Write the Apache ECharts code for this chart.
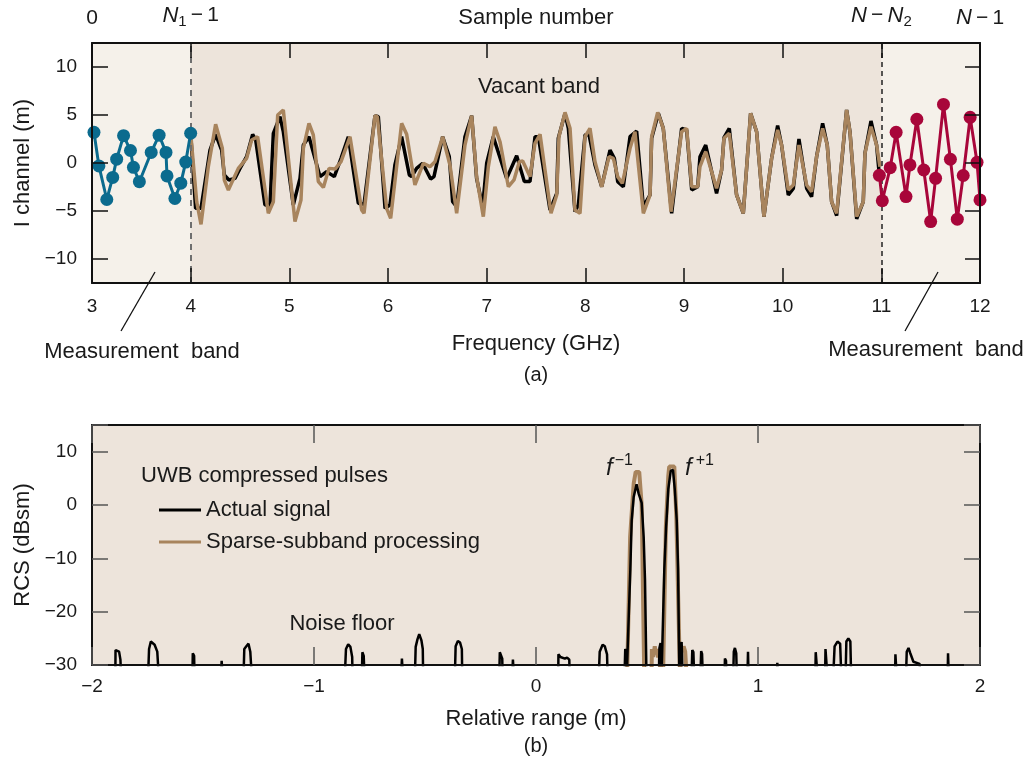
<!DOCTYPE html>
<html>
<head>
<meta charset="utf-8">
<script src="https://cdn.jsdelivr.net/npm/echarts@6/dist/echarts.min.js"></script>
<style>
  html, body { margin: 0; padding: 0; background: #fff; }
  #main { width: 1031px; height: 767px; }
</style>
</head>
<body>
<div id="main"></div>
<script>
// (a) I channel vs frequency
const blueFreq = [3.02, 3.07, 3.15, 3.21, 3.25, 3.32, 3.39, 3.42, 3.48, 3.60, 3.68, 3.75, 3.76, 3.84, 3.90, 3.95, 4.00];
const blueVal = [3.2, -0.3, -3.8, -1.5, 0.4, 2.85, 1.3, -0.45, -1.95, 1.1, 2.9, 1.1, -1.35, -3.7, -2.1, 0.1, 3.1];

const redFreq = [10.98, 11.01, 11.09, 11.15, 11.25, 11.29, 11.36, 11.43, 11.50, 11.55, 11.63, 11.70, 11.77, 11.83, 11.90, 11.97, 12.0];
const redVal = [-1.28, -3.93, -0.49, 3.2, -3.5, -0.2, 4.56, -0.73, -6.1, -1.6, 6.1, 0.39, -5.85, -1.3, 4.76, 0.07, -3.85];

const actualFreq = [4.0, 4.05, 4.105, 4.196, 4.253, 4.314, 4.341, 4.388, 4.449, 4.5, 4.567, 4.628, 4.659, 4.753, 4.804, 4.838, 4.905, 4.939, 5.04, 5.108, 5.142, 5.199, 5.311, 5.378, 5.456, 5.524, 5.598, 5.699, 5.757,
  5.868, 5.902, 5.97, 6.02, 6.07, 6.138, 6.216, 6.24, 6.29, 6.351, 6.432, 6.466, 6.554, 6.621, 6.655, 6.696, 6.78, 6.848, 6.898, 6.959, 7.0, 7.067, 7.203, 7.304, 7.382, 7.439, 7.49, 7.524,
  7.642, 7.71, 7.726, 7.794, 7.828, 7.895, 7.929, 7.997, 8.037, 8.098, 8.166, 8.25, 8.294, 8.328, 8.385, 8.453, 8.52, 8.588, 8.656, 8.672, 8.74, 8.79, 8.875, 8.976, 9.027, 9.078, 9.139, 9.162, 9.22,
  9.33, 9.381, 9.405, 9.459, 9.533, 9.601, 9.675, 9.736, 9.81, 9.888, 9.949, 9.989, 10.057, 10.108, 10.165, 10.243, 10.293, 10.344, 10.405, 10.452, 10.496, 10.547, 10.648, 10.682, 10.75, 10.817, 10.834, 10.895, 10.952, 10.98];
const actualVal = [3.1, -4.72, -4.72, 1.35, 2.98, 1.35, -1.25, -1.77, -1.6, -0.56, 0.66, 2.98, 2.4, -4.38, -4.38, 3.09, 4.83, 3.26, -4.38, -1.6, 1.87, 2.74, -1.42, -0.9, -1.42, 0.49, 2.74, -4.2, -4.3,
  4.93, 4.83, -4.72, -4.38, -0.21, 2.74, -1.25, -1.42, -0.56, -0.03, -1.67, -1.42, 2.74, 0.66, -4.03, -4.55, 2.74, 4.93, -1.6, -4.55, -0.03, 2.74, -1.6, 0.76, -1.94, -1.94, 2.74, 2.74,
  -4.9, -3.16, 2.57, 5.17, 3.61, -5.07, -4.38, 2.92, 2.99, -0.21, -2.47, 1.35, 0.49, -1.94, -2.47, 2.74, 3.33, -4.55, -3.33, 2.57, 5.17, 3.61, -5.24, 3.61, 3.44, -2.81, -2.47, 0.66, 1.87,
  -3.16, -0.73, 2.64, 3.61, -3.33, -5.24, 5.17, 3.26, -5.59, 0.49, 3.89, 1.87, -3.33, -2.64, 2.5, -2.64, -3.51, 0.66, 4.13, 1.87, -4.03, -5.49, 5.52, 3.26, -5.83, -4.03, 1.01, 4.38, 1.87, -1.28];

const sparseFreq = [4.0, 4.061, 4.105, 4.179, 4.253, 4.27, 4.321, 4.341, 4.382, 4.483, 4.567, 4.618, 4.679, 4.787, 4.838, 4.882, 4.939, 5.057, 5.118, 5.142, 5.199, 5.243, 5.294, 5.345, 5.402, 5.463, 5.524, 5.615, 5.733, 5.757,
  5.868, 5.892, 5.986, 6.027, 6.138, 6.189, 6.273, 6.358, 6.425, 6.476, 6.554, 6.628, 6.696, 6.78, 6.848, 6.898, 6.966, 7.017, 7.084, 7.135, 7.22, 7.277, 7.331, 7.365, 7.439, 7.49, 7.541,
  7.652, 7.71, 7.733, 7.794, 7.845, 7.895, 7.946, 7.997, 8.047, 8.098, 8.166, 8.24, 8.284, 8.328, 8.375, 8.453, 8.503, 8.588, 8.656, 8.672, 8.733, 8.79, 8.868, 8.976, 9.027, 9.078, 9.139, 9.162, 9.22,
  9.33, 9.381, 9.405, 9.459, 9.533, 9.601, 9.675, 9.736, 9.81, 9.888, 9.949, 9.989, 10.057, 10.108, 10.165, 10.243, 10.293, 10.344, 10.405, 10.452, 10.496, 10.547, 10.648, 10.682, 10.75, 10.817, 10.834, 10.895, 10.952, 10.986];
const sparseVal = [3.1, -4.03, -6.39, -0.38, 4.03, 4.13, 1.53, -1.77, -2.81, -0.56, 0.49, 2.4, 2.74, -5.24, -4.03, 5.0, 5.52, -6.11, -3.85, 1.53, 4.13, 2.92, -1.94, -2.54, -0.56, -0.63, 0.14, 2.74, -4.9, -5.24,
  4.93, 4.83, -4.72, -5.76, 4.13, 2.99, -2.29, -0.03, -0.38, 0.14, 2.74, -0.21, -5.24, 1.87, 4.93, -1.42, -5.59, -0.38, 3.78, 2.22, -2.47, -1.77, 0.14, 0.21, -1.42, 2.05, 2.99,
  -5.24, -3.33, 2.74, 5.28, 3.61, -4.9, -5.24, 2.74, 3.61, 0.14, -2.47, 0.66, 0.49, -1.42, -2.12, 1.53, 3.26, -5.24, -3.33, 2.74, 5.28, 3.61, -5.07, 3.26, 3.61, -2.47, -2.47, -0.38, 1.18,
  -2.64, -0.73, 2.57, 3.09, -3.33, -5.24, 5.17, 3.26, -5.59, 0.49, 3.44, 1.87, -2.81, -2.29, 1.87, -2.29, -2.99, 0.66, 3.61, 1.87, -4.03, -5.24, 5.52, 3.26, -5.59, -4.03, 1.01, 3.78, 1.87, -0.38];

const iTicks = [-10, -5, 0, 5, 10];
const sampleLabels = { 3: '0', 4: 'N1-1', 11: 'N-N2', 12: 'N-1' };

// (b) RCS vs relative range
const rangeActual = [-2, -1.895, -1.894, -1.885, -1.878, -1.872, -1.868,
  -1.748, -1.743, -1.735, -1.727, -1.718, -1.706, -1.698,
  -1.548, -1.546, -1.54, -1.538, -1.42, -1.416, -1.41,
  -1.318, -1.314, -1.303, -1.295, -1.287, -1.279,
  -0.862, -0.856, -0.846, -0.836, -0.828, -0.826, -0.785, -0.782, -0.776, -0.772,
  -0.608, -0.604, -0.598, -0.546, -0.542, -0.534, -0.526, -0.516, -0.51, -0.508,
  -0.366, -0.362, -0.352, -0.342, -0.334, -0.332, -0.166, -0.163, -0.157, -0.152, -0.15,
  -0.108, -0.104, -0.098, 0.1, 0.101, 0.11, 0.118, 0.13, 0.14, 0.15, 0.152,
  0.282, 0.287, 0.3, 0.31, 0.32, 0.323, 0.398, 0.402, 0.406, 0.408,
  0.411, 0.425, 0.431, 0.44, 0.453, 0.462, 0.476, 0.485, 0.491, 0.498,
  0.553, 0.556, 0.561, 0.565, 0.568, 0.578, 0.586, 0.596, 0.607, 0.617, 0.625, 0.634, 0.64, 0.646,
  0.652, 0.656, 0.661, 0.7, 0.704, 0.709, 0.713, 0.74, 0.744, 0.748, 0.752,
  0.849, 0.851, 0.856, 0.858, 0.888, 0.891, 0.896, 0.902, 0.905, 0.952, 0.955, 0.958,
  1.084, 1.087, 1.091, 1.258, 1.26, 1.266, 1.27, 1.302, 1.304, 1.31, 1.314,
  1.338, 1.345, 1.358, 1.37, 1.376, 1.394, 1.398, 1.407, 1.416, 1.42,
  1.617, 1.619, 1.624, 1.626, 1.666, 1.67, 1.678, 1.686, 1.7, 1.728, 1.732,
  1.854, 1.856, 1.86, 2];
const rcsActual = [-33, -33, -27.2, -26.9, -27.5, -29, -33,
  -33, -27, -25.6, -25.4, -26.2, -27.5, -33,
  -33, -27.8, -28.3, -33, -33, -29.2, -33,
  -33, -27, -26.4, -26.0, -27.5, -33,
  -33, -27, -26.1, -26.6, -28.5, -33, -33, -27.6, -28.3, -33,
  -33, -28.8, -33, -33, -26.6, -25.2, -24.2, -25.4, -27, -33,
  -33, -26.5, -25.5, -25.8, -27, -33, -33, -27.6, -27.8, -28.8, -33,
  -33, -29, -33, -33, -28, -28.5, -28.2, -28.8, -28.6, -29, -33,
  -33, -27.5, -26.2, -26.5, -28, -33, -33, -27, -27.5, -33,
  -33, -12, -2.9, 1.5, 3.9, 2.2, 0.4, -6, -14, -33,
  -33, -26.8, -25.9, -33, -33, -12, -4.2, 3, 6.4, 6.6, 3, -2.9, -12, -33,
  -26.5, -25.7, -33, -33, -27.2, -27.6, -33, -33, -27.4, -27.9, -33,
  -33, -28.8, -29.2, -33, -33, -27.5, -26.8, -27.8, -33, -33, -27.5, -33,
  -33, -29.6, -33, -33, -27.6, -27.8, -33, -33, -27, -26.8, -33,
  -33, -26.5, -25.6, -26, -33, -33, -25.6, -25, -25.6, -33,
  -33, -28, -28.3, -33, -33, -27.5, -26.8, -27.8, -29.4, -29.8, -33,
  -33, -27.8, -33, -33];

const rangeSparse = [0.41, 0.424, 0.44, 0.449, 0.465, 0.476, 0.488,
  0.52, 0.522, 0.528, 0.535, 0.54, 0.545, 0.55, 0.556, 0.562,
  0.572, 0.585, 0.596, 0.6, 0.623, 0.632, 0.649,
  0.652, 0.66, 0.665, 0.672, 0.68];
const rcsSparse = [-33, -6, 4, 6.2, 6.2, 0, -33,
  -33, -27, -28.5, -26.5, -28, -27, -28.6, -27, -33,
  -33, -4, 5.5, 7.2, 7.2, -2, -33,
  -27, -27.5, -26.5, -27.5, -33];

const FONT = '"Liberation Sans", Arial, sans-serif';
const TXT = '#1a1a1a';
const BLUE = '#0b6b8e';
const RED = '#a8063a';
const BROWN = '#a8845d';

function zip(xs, ys) { return xs.map((x, i) => [x, ys[i]]); }
function minus(v) { return v < 0 ? '\u2212' + Math.abs(v) : String(v); }

const chart = echarts.init(document.getElementById('main'), null, { renderer: 'canvas' });

const axisLine = { show: true, onZero: false, lineStyle: { color: '#111', width: 2 } };
const tickIn = (color, len) => ({ show: true, inside: true, length: len, lineStyle: { color: color, width: 1.5 } });
const nameStyle = { fontSize: 22, color: TXT, fontFamily: FONT };
const labelStyle = { fontSize: 19, color: TXT, fontFamily: FONT };

const option = {
  animation: false,
  textStyle: { fontFamily: FONT },
  grid: [
    { left: 92, top: 43, width: 888, height: 240, show: true, backgroundColor: '#f5f1ea', borderWidth: 0 },
    { left: 92, top: 425, width: 888, height: 240, show: true, backgroundColor: '#ede4db', borderWidth: 0 }
  ],
  xAxis: [
    { gridIndex: 0, type: 'value', position: 'bottom', min: 3, max: 12, interval: 1, z: 10,
      axisLine, axisTick: tickIn('#111', 15), splitLine: { show: false },
      axisLabel: Object.assign({ margin: 14 }, labelStyle),
      name: 'Frequency (GHz)', nameLocation: 'middle', nameGap: 50, nameMoveOverlap: false, nameTextStyle: nameStyle },
    { gridIndex: 0, type: 'value', position: 'top', min: 3, max: 12, interval: 1, z: 10,
      axisLine, axisTick: tickIn('#111', 15), splitLine: { show: false },
      axisLabel: {
        margin: 14, fontSize: 20, color: TXT, fontFamily: FONT,
        formatter: v => {
          const s = sampleLabels[v];
          if (!s) return '';
          if (s === '0') return '{t|0}';
          if (s === 'N1-1') return '{i|N}{b|1}{t|\u2009\u2212\u20091}';
          if (s === 'N-N2') return '{i|N}{t|\u2009\u2212\u2009}{i|N}{b|2}';
          return '{i|N}{t|\u2009\u2212\u20091}';
        },
        rich: {
          t: { fontSize: 21, color: TXT, fontFamily: FONT },
          i: { fontSize: 22, fontStyle: 'italic', color: TXT, fontFamily: FONT },
          b: { fontSize: 15, color: TXT, fontFamily: FONT, padding: [12, 0, 0, 0] }
        }
      },
      name: 'Sample number', nameLocation: 'middle', nameGap: 14, nameMoveOverlap: false, nameTextStyle: nameStyle },
    { gridIndex: 1, type: 'value', position: 'bottom', min: -2, max: 2, interval: 1, z: 10,
      axisLine, axisTick: tickIn('#555', 18), splitLine: { show: false },
      axisLabel: Object.assign({ margin: 12, formatter: minus }, labelStyle),
      name: 'Relative range (m)', nameLocation: 'middle', nameGap: 43, nameMoveOverlap: false, nameTextStyle: nameStyle },
    { gridIndex: 1, type: 'value', position: 'top', min: -2, max: 2, interval: 1, z: 10,
      axisLine, axisTick: tickIn('#555', 18), axisLabel: { show: false }, splitLine: { show: false } }
  ],
  yAxis: [
    { gridIndex: 0, type: 'value', position: 'left', min: -12.5, max: 12.5, z: 10,
      axisLine, axisTick: Object.assign(tickIn('#111', 16), { customValues: iTicks }),
      splitLine: { show: false },
      axisLabel: Object.assign({ margin: 15, formatter: minus, customValues: iTicks }, labelStyle),
      name: 'I channel (m)', nameLocation: 'middle', nameGap: 58, nameMoveOverlap: false, nameTextStyle: nameStyle },
    { gridIndex: 0, type: 'value', position: 'right', min: -12.5, max: 12.5, z: 10,
      axisLine, axisTick: Object.assign(tickIn('#111', 15), { customValues: iTicks }),
      axisLabel: { show: false }, splitLine: { show: false } },
    { gridIndex: 1, type: 'value', position: 'left', min: -30, max: 15, interval: 10, z: 10,
      axisLine, axisTick: tickIn('#555', 16), splitLine: { show: false },
      axisLabel: Object.assign({ margin: 15, formatter: v => (v > 10 ? '' : minus(v)) }, labelStyle),
      name: 'RCS (dBsm)', nameLocation: 'middle', nameGap: 58, nameMoveOverlap: false, nameTextStyle: nameStyle },
    { gridIndex: 1, type: 'value', position: 'right', min: -30, max: 15, interval: 10, z: 10,
      axisLine, axisTick: tickIn('#555', 16), axisLabel: { show: false }, splitLine: { show: false } }
  ],
  legend: {
    orient: 'vertical', left: 154, top: 494, itemGap: 10, itemWidth: 42, itemHeight: 3,
    selectedMode: false,
    textStyle: { fontSize: 22, color: TXT, fontFamily: FONT },
    data: [{ name: 'Actual signal', icon: 'rect' }, { name: 'Sparse-subband processing', icon: 'rect' }]
  },
  series: [
    { name: 'bands', type: 'line', xAxisIndex: 0, yAxisIndex: 0, z: 1, data: [[7, 0]],
      symbol: 'none', lineStyle: { opacity: 0 }, silent: true,
      markArea: { silent: true, itemStyle: { color: '#ede4db' }, data: [[{ xAxis: 4 }, { xAxis: 11 }]] },
      markLine: { silent: true, symbol: 'none', label: { show: false },
        data: [
          { xAxis: 4, lineStyle: { color: '#6e6e6e', type: [6, 5], width: 2 } },
          { xAxis: 11, lineStyle: { color: '#222', type: [5, 4], width: 1.5 } }
        ] } },
    { name: 'Actual signal', type: 'line', xAxisIndex: 0, yAxisIndex: 0, z: 3,
      data: zip(actualFreq, actualVal), symbol: 'none', lineStyle: { color: '#000', width: 3.5 }, itemStyle: { color: '#000' } },
    { name: 'Sparse-subband processing', type: 'line', xAxisIndex: 0, yAxisIndex: 0, z: 4,
      data: zip(sparseFreq, sparseVal), symbol: 'none', lineStyle: { color: BROWN, width: 3.5 }, itemStyle: { color: BROWN } },
    { name: 'Measurement band 1', type: 'line', xAxisIndex: 0, yAxisIndex: 0, z: 5,
      data: zip(blueFreq, blueVal), symbol: 'circle', symbolSize: 13, showAllSymbol: true,
      lineStyle: { color: BLUE, width: 3 }, itemStyle: { color: BLUE } },
    { name: 'Measurement band 2', type: 'line', xAxisIndex: 0, yAxisIndex: 0, z: 5,
      data: zip(redFreq, redVal), symbol: 'circle', symbolSize: 13, showAllSymbol: true,
      lineStyle: { color: RED, width: 3 }, itemStyle: { color: RED } },
    { name: 'Sparse-subband processing', type: 'line', xAxisIndex: 2, yAxisIndex: 2, z: 3,
      data: zip(rangeSparse, rcsSparse), symbol: 'none', lineStyle: { color: BROWN, width: 4 }, itemStyle: { color: BROWN } },
    { name: 'Actual signal', type: 'line', xAxisIndex: 2, yAxisIndex: 2, z: 4,
      data: zip(rangeActual, rcsActual), symbol: 'none', lineStyle: { color: '#000', width: 2.5 }, itemStyle: { color: '#000' } }
  ],
  graphic: [
    { type: 'text', z: 50, x: 539, y: 87, style: { text: 'Vacant band', fontSize: 22, fill: TXT, fontFamily: FONT, align: 'center', verticalAlign: 'middle' } },
    { type: 'text', z: 50, x: 142, y: 352, style: { text: 'Measurement  band', fontSize: 22, fill: TXT, fontFamily: FONT, align: 'center', verticalAlign: 'middle' } },
    { type: 'text', z: 50, x: 926, y: 350, style: { text: 'Measurement  band', fontSize: 22, fill: TXT, fontFamily: FONT, align: 'center', verticalAlign: 'middle' } },
    { type: 'line', z: 50, shape: { x1: 155, y1: 272, x2: 121, y2: 331 }, style: { stroke: '#111', lineWidth: 1.3 } },
    { type: 'line', z: 50, shape: { x1: 938, y1: 272, x2: 905, y2: 331 }, style: { stroke: '#111', lineWidth: 1.3 } },
    { type: 'text', z: 50, x: 536, y: 375, style: { text: '(a)', fontSize: 20, fill: TXT, fontFamily: FONT, align: 'center', verticalAlign: 'middle' } },
    { type: 'text', z: 50, x: 536, y: 746, style: { text: '(b)', fontSize: 20, fill: TXT, fontFamily: FONT, align: 'center', verticalAlign: 'middle' } },
    { type: 'text', z: 50, x: 141, y: 476, style: { text: 'UWB compressed pulses', fontSize: 22, fill: TXT, fontFamily: FONT, verticalAlign: 'middle' } },
    { type: 'text', z: 50, x: 342, y: 624, style: { text: 'Noise floor', fontSize: 22, fill: TXT, fontFamily: FONT, align: 'center', verticalAlign: 'middle' } },
    { type: 'text', z: 50, x: 606, y: 468, style: { text: '{f|f}{s|\u22121}', verticalAlign: 'middle',
      rich: { f: { fontSize: 24, fontStyle: 'italic', fill: TXT, fontFamily: FONT }, s: { fontSize: 16, fill: TXT, fontFamily: FONT, padding: [0, 0, 14, 2] } } } },
    { type: 'text', z: 50, x: 685, y: 468, style: { text: '{f|f}{s|+1}', verticalAlign: 'middle',
      rich: { f: { fontSize: 24, fontStyle: 'italic', fill: TXT, fontFamily: FONT }, s: { fontSize: 16, fill: TXT, fontFamily: FONT, padding: [0, 0, 14, 4] } } } }
  ]
};

chart.setOption(option);
</script>
</body>
</html>
